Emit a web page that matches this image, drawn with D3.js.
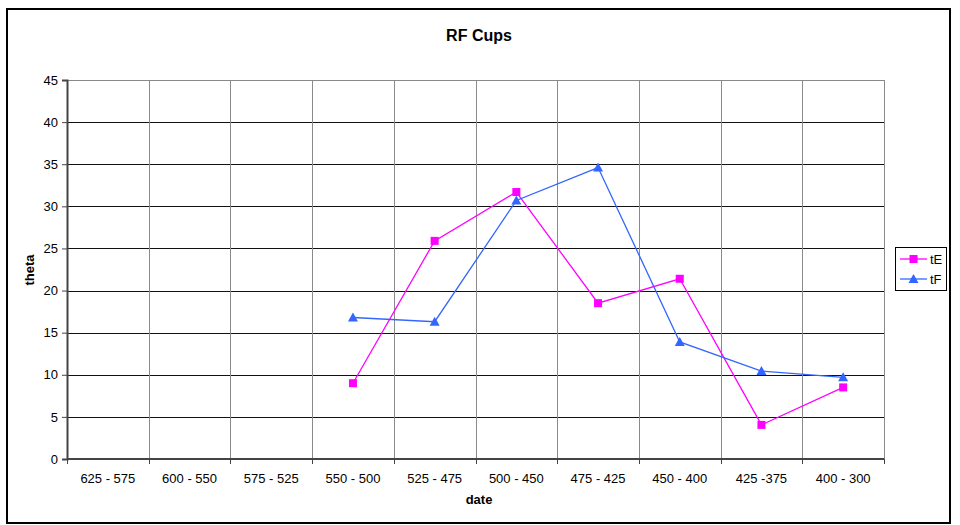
<!DOCTYPE html>
<html>
<head>
<meta charset="utf-8">
<script src="https://cdn.jsdelivr.net/npm/d3@7"></script>
<style>
  html, body { margin: 0; padding: 0; background: #fff; }
  svg { display: block; font-family: "Liberation Sans", Arial, sans-serif; }
</style>
</head>
<body>
<svg id="chart" width="960" height="525"></svg>
<script>
const categories = ["625 - 575", "600 - 550", "575 - 525", "550 - 500", "525 - 475", "500 - 450", "475 - 425", "450 - 400", "425 -375", "400 - 300"];
const tE = [null, null, null, 9.0, 25.9, 31.7, 18.5, 21.4, 4.05, 8.5];
const tF = [null, null, null, 16.8, 16.3, 30.7, 34.6, 13.9, 10.45, 9.7];
const yTicks = [0, 5, 10, 15, 20, 25, 30, 35, 40, 45];
const seriesNames = ["tE", "tF"];
const seriesColors = ["#FF00FF", "#3366FF"];
const titleText = "RF Cups";
const xLabel = "date";
const yLabel = "theta";

(function () {
const svg = d3.select("#chart");
const pL = 67, pR = 884, pT = 80, pB = 459;

// outer frame
svg.append("rect").attr("x", 7).attr("y", 9).attr("width", 943).attr("height", 514)
  .attr("fill", "#fff").attr("stroke", "#000").attr("stroke-width", 2);

const x = d3.scaleBand().domain(categories).range([pL, pR]).paddingInner(0).paddingOuter(0);
const y = d3.scaleLinear().domain([0, 45]).range([pB, pT]);

// horizontal gridlines
svg.append("g").selectAll("line").data(yTicks.filter(d => d > 0)).join("line")
  .attr("x1", pL).attr("x2", pR)
  .attr("y1", d => Math.round(y(d)) + 0.5).attr("y2", d => Math.round(y(d)) + 0.5)
  .attr("stroke", d => d === 45 ? "#888" : "#111").attr("stroke-width", 1);

// vertical gridlines at category boundaries
const bounds = categories.slice(1).map(c => x(c)).concat([pR]);
svg.append("g").selectAll("line").data(bounds).join("line")
  .attr("x1", d => Math.round(d) + 0.5).attr("x2", d => Math.round(d) + 0.5)
  .attr("y1", pT).attr("y2", pB)
  .attr("stroke", "#8a8a8a").attr("stroke-width", 1);

// y axis
const yAxis = d3.axisLeft(y).tickValues(yTicks).tickSize(5).tickPadding(4);
const gy = svg.append("g").attr("transform", `translate(${pL},0)`).call(yAxis);
gy.select(".domain").attr("stroke", "#444").attr("stroke-width", 2);
gy.selectAll(".tick line").attr("stroke", "#444");
gy.selectAll("text").attr("font-size", 13).attr("fill", "#000")
  .attr("font-family", '"Liberation Sans", Arial, sans-serif');

// x axis: ticks at boundaries
const gx = svg.append("g").attr("transform", `translate(0,${pB})`);
gx.append("line").attr("x1", pL).attr("x2", pR).attr("y1", 0).attr("y2", 0)
  .attr("stroke", "#444").attr("stroke-width", 2);
gx.selectAll("line.tk").data([pL].concat(bounds)).join("line").attr("class", "tk")
  .attr("x1", d => Math.round(d) + 0.5).attr("x2", d => Math.round(d) + 0.5)
  .attr("y1", 0).attr("y2", 5).attr("stroke", "#444");
gx.selectAll("text").data(categories).join("text")
  .attr("x", d => x(d) + x.bandwidth() / 2).attr("y", 24)
  .attr("text-anchor", "middle").attr("font-size", 13).attr("fill", "#000")
  .text(d => d);

// title and axis labels
svg.append("text").attr("x", 479).attr("y", 41).attr("text-anchor", "middle")
  .attr("font-size", 16).attr("font-weight", "bold").text(titleText);
svg.append("text").attr("x", 479).attr("y", 504).attr("text-anchor", "middle")
  .attr("font-size", 13).attr("font-weight", "bold").text(xLabel);
svg.append("text").attr("transform", "translate(34,270) rotate(-90)").attr("text-anchor", "middle")
  .attr("font-size", 13).attr("font-weight", "bold").text(yLabel);

// series
const cx = c => x(c) + x.bandwidth() / 2;
const line = d3.line().defined(d => d.v != null).x(d => cx(d.c)).y(d => y(d.v));
const allSeries = [tE, tF];

function drawMarker(g, i, px, py) {
  if (i === 0) {
    g.append("rect").attr("x", px - 4).attr("y", py - 4).attr("width", 8).attr("height", 8)
      .attr("fill", seriesColors[i]);
  } else {
    g.append("path").attr("d", `M${px},${py - 5}L${px + 5},${py + 4}L${px - 5},${py + 4}Z`)
      .attr("fill", seriesColors[i]);
  }
}

allSeries.forEach((vals, i) => {
  const data = categories.map((c, j) => ({ c, v: vals[j] }));
  svg.append("path").datum(data).attr("d", line).attr("fill", "none")
    .attr("stroke", seriesColors[i]).attr("stroke-width", 1.3);
  const mg = svg.append("g");
  data.filter(d => d.v != null).forEach(d => drawMarker(mg, i, cx(d.c), y(d.v)));
});

// legend
const lg = svg.append("g");
lg.append("rect").attr("x", 895.5).attr("y", 247.5).attr("width", 51).attr("height", 43)
  .attr("fill", "#fff").attr("stroke", "#000").attr("stroke-width", 1);
seriesNames.forEach((n, i) => {
  const ly = 259 + i * 20;
  lg.append("line").attr("x1", 900).attr("x2", 927).attr("y1", ly).attr("y2", ly)
    .attr("stroke", seriesColors[i]).attr("stroke-width", 1.3);
  drawMarker(lg, i, 913.5, ly);
  lg.append("text").attr("x", 930).attr("y", ly + 5).attr("font-size", 13).text(n);
});
})();
</script>
</body>
</html>
